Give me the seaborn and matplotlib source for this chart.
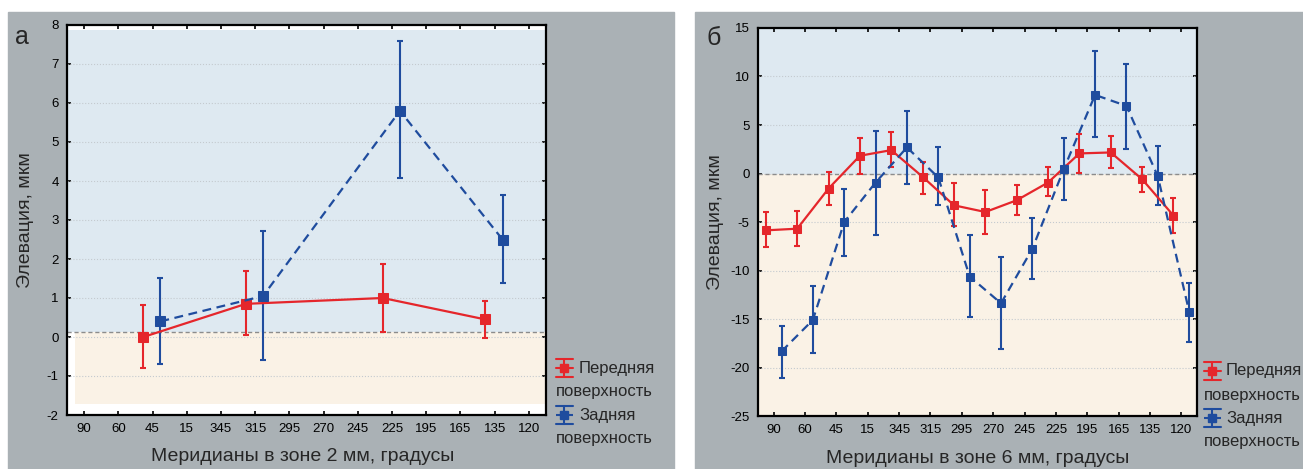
import numpy as np
import pandas as pd
import matplotlib
matplotlib.use("Agg")
import matplotlib.pyplot as plt
from matplotlib.patches import Rectangle
from matplotlib.lines import Line2D
import seaborn as sns

# Tick labels along the x axis (same for both panels)
tick_labels = ["90", "60", "45", "15", "345", "315", "295", "270",
               "245", "225", "195", "165", "135", "120"]

# Panel a: zone 2 mm
merid_a = ["45", "315", "225", "135"]
front_a = [0.0, 0.85, 1.0, 0.45]
front_a_lo = [-0.80, 0.05, 0.12, -0.02]
front_a_hi = [0.82, 1.68, 1.88, 0.93]
back_a = [0.40, 1.05, 5.80, 2.50]
back_a_lo = [-0.68, -0.60, 4.07, 1.38]
back_a_hi = [1.52, 2.72, 7.58, 3.63]

# Panel b: zone 6 mm
merid_b = tick_labels
front_b = [-5.86, -5.69, -1.55, 1.83, 2.41, -0.34, -3.28, -3.97, -2.76, -0.93, 2.07, 2.17, -0.59, -4.34]
front_b_lo = [-7.59, -7.52, -3.28, -0.10, 0.62, -2.07, -5.45, -6.28, -4.31, -2.34, 0.10, 0.52, -1.90, -6.10]
front_b_hi = [-3.97, -3.90, 0.17, 3.69, 4.24, 1.17, -1.03, -1.72, -1.14, 0.69, 4.03, 3.90, 0.69, -2.48]
back_b = [-18.34, -15.10, -5.00, -0.93, 2.69, -0.41, -10.62, -13.38, -7.76, 0.45, 8.10, 6.97, -0.28, -14.24]
back_b_lo = [-21.10, -18.55, -8.55, -6.38, -1.10, -3.28, -14.83, -18.07, -10.86, -2.69, 3.72, 2.52, -3.28, -17.34]
back_b_hi = [-15.72, -11.55, -1.59, 4.41, 6.41, 2.69, -6.34, -8.62, -4.55, 3.66, 12.66, 11.31, 2.86, -11.24]

RED = "#e5262b"
BLUE = "#1f4c9e"
GREY_BG = "#aab1b5"
SKY = "#dee9f1"
SAND = "#faf2e6"

sns.set_style("ticks")
plt.rcParams["font.family"] = ["Liberation Sans", "DejaVu Sans"]
plt.rcParams["axes.unicode_minus"] = False

W, H = 1303, 469
fig = plt.figure(figsize=(W / 100, H / 100), dpi=100)
fig.patch.set_facecolor("white")


def fx(x):
    return x / W


def fy(y):
    return 1 - y / H


# grey panels behind each chart
for x0, x1 in [(8, 674), (695, 1303)]:
    fig.add_artist(Rectangle((fx(x0), 0), fx(x1) - fx(x0), fy(12),
                             transform=fig.transFigure, color=GREY_BG, zorder=-10))


def make_df(merid, vals, lo, hi, shift):
    df = pd.DataFrame({"merid": merid, "val": vals, "lo": lo, "hi": hi})
    df["pos"] = [tick_labels.index(m) + 0.5 + shift for m in df["merid"]]
    return df


def draw_series(ax, df, color, ls, ms):
    ax.errorbar(df["pos"], df["val"],
                yerr=[df["val"] - df["lo"], df["hi"] - df["val"]],
                fmt="none", ecolor=color, elinewidth=1.5, capsize=2.5,
                capthick=1.5, zorder=4)
    sns.lineplot(data=df, x="pos", y="val", ax=ax, color=color, sort=False,
                 linestyle=ls, linewidth=1.6, marker="s", markersize=ms,
                 markeredgecolor=color, errorbar=None, zorder=5)


def style_axes(ax, ylim, yticks, zero_y, sky_lim, sand_lim, sand_x0):
    ax.set_facecolor("white")
    ax.set_xlim(0, 14)
    ax.set_ylim(*ylim)
    ax.axhspan(sky_lim[0], sky_lim[1], xmin=0, xmax=1, color=SKY, zorder=0, lw=0)
    ax.axhspan(sand_lim[0], sand_lim[1], xmin=sand_x0, xmax=1, color=SAND, zorder=0, lw=0)
    ax.set_xticks(np.arange(len(tick_labels)) + 0.5)
    ax.set_xticklabels(tick_labels)
    ax.set_yticks(yticks)
    for t in yticks:
        if ylim[0] < t < ylim[1]:
            ax.axhline(t, color="#c4cacf", lw=0.8, ls=":", zorder=1)
    ax.axhline(zero_y, color="#8c8c8c", lw=1.0, ls=(0, (3, 2)), zorder=2)
    ax.tick_params(direction="in", top=True, right=True, length=3, width=1.2,
                   labelsize=9.5, colors="black", pad=6)
    for s in ax.spines.values():
        s.set_linewidth(1.6)
        s.set_color("black")
    ax.set_xlabel("")
    ax.set_ylabel("")


def draw_legend(xm, xt, xt2, rows):
    for (y1, y2, color, dashed, word) in rows:
        xc, yc = fx(xm), fy(y1)
        hw = 8.5 / W
        vh = 9 / H
        fig.add_artist(Line2D([xc, xc], [yc - vh, yc + vh], color=color, lw=1.5,
                              transform=fig.transFigure))
        for yy in (yc - vh, yc + vh):
            fig.add_artist(Line2D([xc - hw, xc + hw], [yy, yy], color=color, lw=1.5,
                                  transform=fig.transFigure))
        fig.add_artist(Line2D([xc - hw, xc + hw], [yc, yc], color=color, lw=1.5,
                              ls="--" if dashed else "-", transform=fig.transFigure))
        fig.add_artist(Line2D([xc], [yc], color=color, marker="s", markersize=5.5,
                              transform=fig.transFigure))
        fig.text(fx(xt), yc, word, fontsize=12, va="center", ha="left")
        fig.text(fx(xt2), fy(y2), "поверхность", fontsize=12, va="center", ha="left")


# ---- panel a
ax1 = fig.add_axes([fx(67), fy(415), fx(546) - fx(67), fy(25) - fy(415)])
style_axes(ax1, (-2, 8), np.arange(-2, 9, 1), 0.14, (0.14, 7.87), (-1.72, 0.14), 0.017)
draw_series(ax1, make_df(merid_a, front_a, front_a_lo, front_a_hi, -0.27), RED, "-", 6.5)
draw_series(ax1, make_df(merid_a, back_a, back_a_lo, back_a_hi, 0.23), BLUE, (0, (4, 2.5)), 6.5)
ax1.text(-0.095, 1.0, "а", transform=ax1.transAxes, fontsize=18, ha="center", va="top")
ax1.set_xlabel("Меридианы в зоне 2 мм, градусы", fontsize=14)
ax1.xaxis.set_label_coords(0.493, -0.085)
ax1.set_ylabel("Элевация, мкм", fontsize=14)
ax1.yaxis.set_label_coords(-0.068, 0.5)

# ---- panel b
ax2 = fig.add_axes([fx(758), fy(416), fx(1197) - fx(758), fy(28) - fy(416)])
style_axes(ax2, (-25, 15), np.arange(-25, 16, 5), 0.0, (0, 15), (-25, 0), 0.0)
draw_series(ax2, make_df(merid_b, front_b, front_b_lo, front_b_hi, -0.25), RED, "-", 6)
draw_series(ax2, make_df(merid_b, back_b, back_b_lo, back_b_hi, 0.25), BLUE, (0, (4, 2.5)), 6)
ax2.text(-0.1, 1.005, "б", transform=ax2.transAxes, fontsize=18, ha="center", va="top")
ax2.set_xlabel("Меридианы в зоне 6 мм, градусы", fontsize=14)
ax2.xaxis.set_label_coords(0.50, -0.088)
ax2.set_ylabel("Элевация, мкм", fontsize=14)
ax2.yaxis.set_label_coords(-0.078, 0.5)

# ---- legends (drawn manually to mimic the wrapped labels)
draw_legend(564, 579, 556, [(368, 391, RED, False, "Передняя"),
                            (415, 438, BLUE, True, "Задняя")])
draw_legend(1212, 1226, 1204, [(371, 395, RED, False, "Передняя"),
                               (418, 441, BLUE, True, "Задняя")])

fig.savefig("out.png", dpi=100, facecolor="white")
